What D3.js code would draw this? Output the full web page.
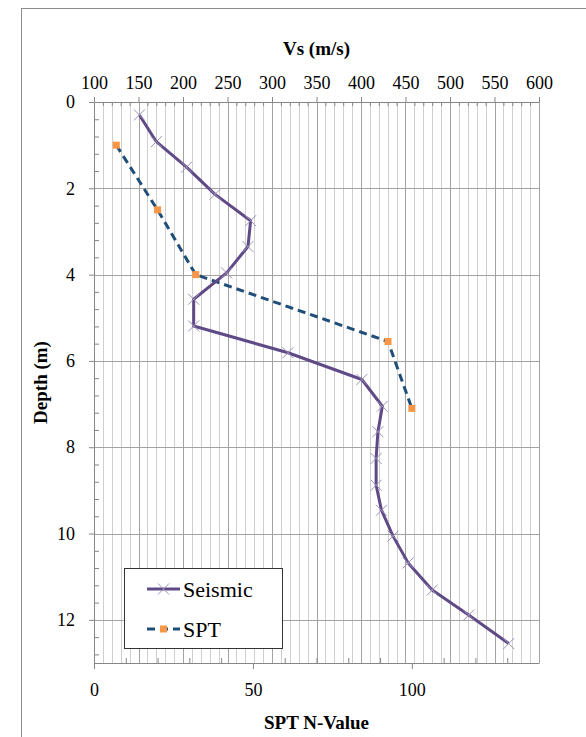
<!DOCTYPE html>
<html><head><meta charset="utf-8">
<script src="https://cdn.jsdelivr.net/npm/d3@7"></script>
<style>html,body{margin:0;padding:0;background:#fff;} svg{display:block;} svg text{font-family:"Liberation Serif","Times New Roman",serif;}</style>
</head><body>
<script>
// Seismic profile: shear wave velocity Vs (m/s) vs depth (m)
const seismicVs    = [151, 170, 204, 236, 276, 273, 249, 212, 212, 318, 401, 424, 419, 417, 417, 423, 436, 453, 480, 521, 566];
const seismicDepth = [0.30, 0.92, 1.51, 2.14, 2.75, 3.35, 3.96, 4.57, 5.19, 5.81, 6.43, 7.05, 7.64, 8.26, 8.88, 9.46, 10.06, 10.68, 11.31, 11.89, 12.55];
// SPT N-values vs depth
const sptN     = [7, 20, 32, 92.5, 100];
const sptDepth = [1.0, 2.5, 4.0, 5.55, 7.1];
// axis ticks
const vsTicks    = [100, 150, 200, 250, 300, 350, 400, 450, 500, 550, 600];
const nTicks     = [0, 50, 100];
const depthTicks = [0, 2, 4, 6, 8, 10, 12];
const seriesNames = ["Seismic", "SPT"];

const W = 586, H = 737;
const L = 94, R = 539, T = 102, B = 663;
const svg = d3.select("body").append("svg").attr("width", W).attr("height", H);
const font = '"Liberation Serif","Times New Roman",serif';

// outer chart border
svg.append("rect").attr("x", 21.5).attr("y", 8.5).attr("width", 700).attr("height", 800)
  .attr("fill", "none").attr("stroke", "#8c8c8c").attr("stroke-width", 1);

const xVs = d3.scaleLinear().domain([100, 600]).range([L, R]);
const xN  = d3.scaleLinear().domain([0, 140]).range([L, R]);
const y   = d3.scaleLinear().domain([0, 13]).range([T, B]);

// minor vertical gridlines (every 10 m/s)
const minorVs = d3.range(110, 600, 10).filter(v => v % 50 !== 0);
svg.append("g").selectAll("line").data(minorVs).join("line")
  .attr("x1", d => Math.round(xVs(d)) + 0.5).attr("x2", d => Math.round(xVs(d)) + 0.5)
  .attr("y1", T).attr("y2", B).attr("stroke", "#cfcfcf").attr("stroke-width", 1);
// major vertical gridlines
svg.append("g").selectAll("line").data(vsTicks.filter(v => v > 100)).join("line")
  .attr("x1", d => Math.round(xVs(d)) + 0.5).attr("x2", d => Math.round(xVs(d)) + 0.5)
  .attr("y1", T).attr("y2", B).attr("stroke", "#a3a3a3").attr("stroke-width", 1);
// major horizontal gridlines
svg.append("g").selectAll("line").data(depthTicks.filter(d => d > 0)).join("line")
  .attr("x1", L).attr("x2", R)
  .attr("y1", d => Math.round(y(d)) + 0.5).attr("y2", d => Math.round(y(d)) + 0.5)
  .attr("stroke", "#a3a3a3").attr("stroke-width", 1);

const axisColor = "#868686";
function styleAxis(g) {
  g.attr("font-family", null).attr("font-size", null);
  g.select(".domain").attr("stroke", axisColor);
  g.selectAll(".tick line").attr("stroke", axisColor);
  g.selectAll("text").style("font-family", font).style("font-size", "18px").attr("fill", "#000");
}

// top axis (Vs)
svg.append("g").attr("transform", `translate(0,${T})`)
  .call(d3.axisTop(xVs).tickValues(vsTicks).tickSize(5).tickSizeOuter(0).tickPadding(8))
  .call(styleAxis);
svg.append("g").attr("transform", `translate(0,${T})`)
  .call(d3.axisBottom(xVs).tickValues(minorVs).tickSize(4).tickFormat(""))
  .call(g => { g.select(".domain").remove(); g.selectAll("line").attr("stroke", axisColor); });

// bottom axis (SPT N)
const minorN = d3.range(10, 140, 10).filter(v => v % 50 !== 0);
svg.append("g").attr("transform", `translate(0,${B})`)
  .call(d3.axisBottom(xN).tickValues(nTicks).tickSize(6).tickSizeOuter(0).tickPadding(14))
  .call(styleAxis);
svg.append("g").attr("transform", `translate(0,${B})`)
  .call(d3.axisTop(xN).tickValues(minorN).tickSize(5).tickFormat(""))
  .call(g => { g.select(".domain").remove(); g.selectAll("line").attr("stroke", axisColor); });

// left axis (depth)
const minorD = d3.range(0.4, 13, 0.4).map(v => +v.toFixed(1)).filter(v => Math.abs(v / 2 - Math.round(v / 2)) > 1e-6);
svg.append("g").attr("transform", `translate(${L},0)`)
  .call(d3.axisLeft(y).tickValues(depthTicks).tickSize(5).tickSizeOuter(0).tickPadding(14))
  .call(styleAxis);
svg.append("g").attr("transform", `translate(${L},0)`)
  .call(d3.axisRight(y).tickValues(minorD).tickSize(5).tickFormat(""))
  .call(g => { g.select(".domain").remove(); g.selectAll("line").attr("stroke", axisColor); });

// titles
function title(sel) { return sel.style("font-family", font).style("font-weight", "bold").style("font-size", "19px").attr("text-anchor", "middle"); }
svg.append("text").attr("x", (L + R) / 2).attr("y", 55).call(title).text("Vs (m/s)");
svg.append("text").attr("x", (L + R) / 2).attr("y", 729).call(title).text("SPT N-Value");
svg.append("text").attr("transform", `translate(47,${(T + B) / 2}) rotate(-90)`).call(title).text("Depth (m)");

// series
const purple = "#5f4a87", markerX = "#9a90b5", blue = "#1f4e79", orange = "#f79646";
const seisData = seismicVs.map((v, i) => ({x: xVs(v), y: y(seismicDepth[i])}));
const sptData  = sptN.map((n, i) => ({x: xN(n), y: y(sptDepth[i])}));
const line = d3.line().x(d => d.x).y(d => d.y);

svg.append("path").datum(sptData).attr("d", line).attr("fill", "none")
  .attr("stroke", blue).attr("stroke-width", 3).attr("stroke-dasharray", "8,5");
svg.append("g").selectAll("rect").data(sptData).join("rect")
  .attr("x", d => d.x - 3.5).attr("y", d => d.y - 3.5).attr("width", 7).attr("height", 7).attr("fill", orange);

svg.append("path").datum(seisData).attr("d", line).attr("fill", "none")
  .attr("stroke", purple).attr("stroke-width", 3).attr("stroke-linejoin", "round");
const xm = 5.5;
svg.append("g").selectAll("path").data(seisData).join("path")
  .attr("d", d => `M${d.x - xm},${d.y - xm}L${d.x + xm},${d.y + xm}M${d.x - xm},${d.y + xm}L${d.x + xm},${d.y - xm}`)
  .attr("stroke", markerX).attr("stroke-width", 1).attr("fill", "none");

// legend
const lg = svg.append("g");
lg.append("rect").attr("x", 124.5).attr("y", 568.5).attr("width", 158).attr("height", 80)
  .attr("fill", "#fff").attr("stroke", "#333").attr("stroke-width", 1);
const ly = [589, 629];
lg.append("line").attr("x1", 147).attr("x2", 180).attr("y1", ly[0]).attr("y2", ly[0])
  .attr("stroke", purple).attr("stroke-width", 3);
lg.append("path").attr("d", `M${163.5 - xm},${ly[0] - xm}L${163.5 + xm},${ly[0] + xm}M${163.5 - xm},${ly[0] + xm}L${163.5 + xm},${ly[0] - xm}`)
  .attr("stroke", markerX).attr("stroke-width", 1);
lg.append("line").attr("x1", 147).attr("x2", 180).attr("y1", ly[1]).attr("y2", ly[1])
  .attr("stroke", blue).attr("stroke-width", 3).attr("stroke-dasharray", "8,5");
lg.append("rect").attr("x", 160).attr("y", ly[1] - 3.5).attr("width", 7).attr("height", 7).attr("fill", orange);
lg.selectAll("text.lt").data(seriesNames).join("text").attr("class", "lt")
  .attr("x", 183).attr("y", (d, i) => ly[i]).attr("dy", "0.35em")
  .style("font-family", font).style("font-size", "22px").text(d => d);
</script>
</body></html>
